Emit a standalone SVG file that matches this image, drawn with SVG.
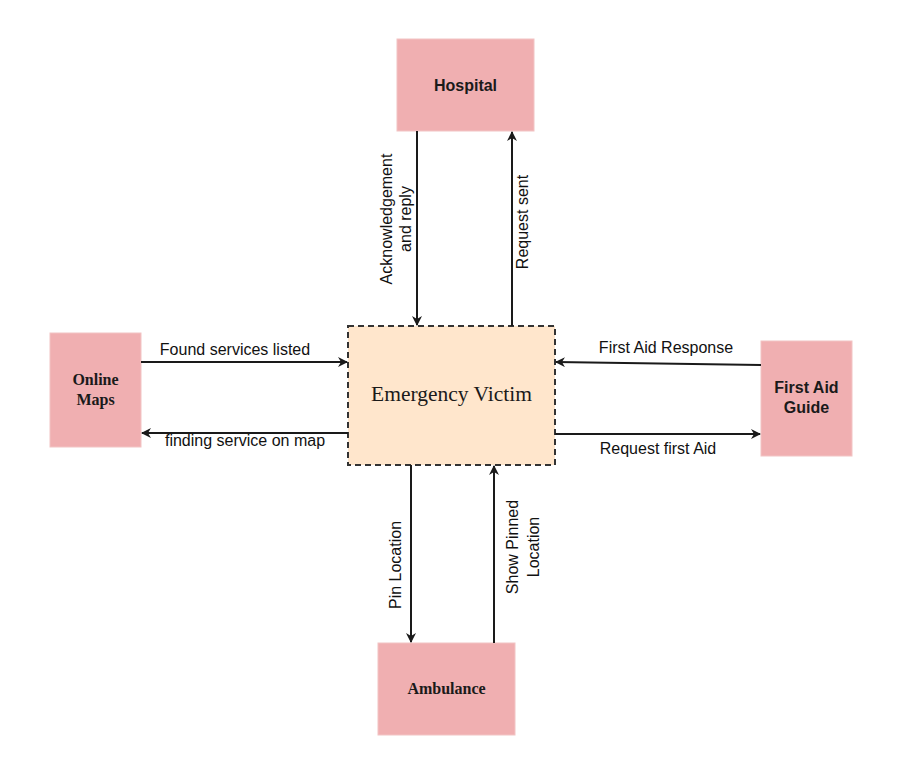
<svg xmlns="http://www.w3.org/2000/svg" width="898" height="775" viewBox="0 0 898 775">
<style>
.box{fill:#F0AFB1;stroke:#F2C4C4;stroke-width:1}
.victim{fill:#FFE6CC;stroke:#333;stroke-width:2;stroke-dasharray:6 4}
.ln{stroke:#1a1a1a;stroke-width:2;fill:none;marker-end:url(#ah)}
.lbl{font-family:"Liberation Sans",Arial,sans-serif;font-size:16px;fill:#111}
.bs{font-family:"Liberation Sans",Arial,sans-serif;font-weight:bold;fill:#1a1a1a}
.bf{font-family:"Liberation Serif","Times New Roman",serif;font-weight:bold;fill:#1a1a1a}
</style>
<defs>
<marker id="ah" viewBox="0 0 10 10" refX="9" refY="5" markerWidth="10" markerHeight="10" markerUnits="userSpaceOnUse" orient="auto">
<path d="M0,0 L10,5 L0,10 L3,5 z" fill="#1a1a1a"/>
</marker>
</defs>
<rect width="898" height="775" fill="#fff"/>
<g id="hospital"><rect class="box" x="397" y="39" width="137" height="92"/><text class="bs" x="465.5" y="91" font-size="16" text-anchor="middle">Hospital</text></g>
<g id="victim"><rect class="victim" x="348" y="326" width="207" height="139"/><text x="451.5" y="401" font-family="Liberation Serif,Times New Roman,serif" font-size="21.5" text-anchor="middle" fill="#1a1a1a">Emergency Victim</text></g>
<g id="maps"><rect class="box" x="50" y="333" width="91" height="114"/><text class="bf" x="95.5" y="385" font-size="16" text-anchor="middle">Online</text><text class="bf" x="95.5" y="405" font-size="16" text-anchor="middle">Maps</text></g>
<g id="firstaid"><rect class="box" x="761" y="341" width="91" height="115"/><text class="bs" x="806.5" y="393" font-size="16" text-anchor="middle">First Aid</text><text class="bs" x="806.5" y="413" font-size="16" text-anchor="middle">Guide</text></g>
<g id="ambulance"><rect class="box" x="378" y="643" width="137" height="92"/><text class="bf" x="446.5" y="694" font-size="16" text-anchor="middle">Ambulance</text></g>
<g id="connectors">
<line class="ln" x1="417" y1="131" x2="417" y2="325"/>
<line class="ln" x1="512" y1="326" x2="512" y2="132"/>
<line class="ln" x1="141" y1="362" x2="347" y2="362"/>
<line class="ln" x1="348" y1="433" x2="142" y2="433"/>
<line class="ln" x1="761" y1="365" x2="556" y2="362"/>
<line class="ln" x1="555" y1="434" x2="760" y2="434"/>
<line class="ln" x1="411" y1="465" x2="411" y2="642"/>
<line class="ln" x1="494" y1="643" x2="494" y2="466"/>
</g>
<g id="labels">
<text class="lbl" transform="translate(392,219) rotate(-90)" text-anchor="middle">Acknowledgement</text>
<text class="lbl" transform="translate(411,219) rotate(-90)" text-anchor="middle">and reply</text>
<text class="lbl" transform="translate(528,222) rotate(-90)" text-anchor="middle">Request sent</text>
<text class="lbl" x="235" y="355" text-anchor="middle">Found services listed</text>
<text class="lbl" x="245" y="446" text-anchor="middle">finding service on map</text>
<text class="lbl" x="666" y="353" text-anchor="middle">First Aid Response</text>
<text class="lbl" x="658" y="454" text-anchor="middle">Request first Aid</text>
<text class="lbl" transform="translate(401,565) rotate(-90)" text-anchor="middle">Pin Location</text>
<text class="lbl" transform="translate(518,547) rotate(-90)" text-anchor="middle">Show Pinned</text>
<text class="lbl" transform="translate(539,547) rotate(-90)" text-anchor="middle">Location</text>
</g>
</svg>
